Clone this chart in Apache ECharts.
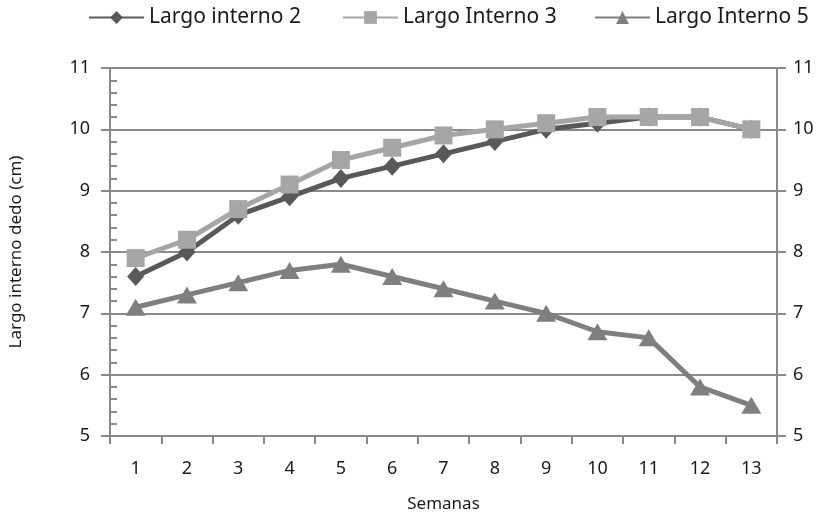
<!DOCTYPE html>
<html><head><meta charset="utf-8">
<script src="https://cdn.jsdelivr.net/npm/echarts@6/dist/echarts.min.js"></script>
<style>html,body{margin:0;padding:0;background:#fff}#c{width:832px;height:518px}</style>
</head><body><div id="c"></div>
<script>
const categories = ['1','2','3','4','5','6','7','8','9','10','11','12','13'];
const largoInterno2 = [7.6, 8.0, 8.6, 8.9, 9.2, 9.4, 9.6, 9.8, 10.0, 10.1, 10.2, 10.2, 10.0];
const largoInterno3 = [7.9, 8.2, 8.7, 9.1, 9.5, 9.7, 9.9, 10.0, 10.1, 10.2, 10.2, 10.2, 10.0];
const largoInterno5 = [7.1, 7.3, 7.5, 7.7, 7.8, 7.6, 7.4, 7.2, 7.0, 6.7, 6.6, 5.8, 5.5];
const seriesNames = ['Largo interno 2', 'Largo Interno 3', 'Largo Interno 5'];
const yMin = 5, yMax = 11, yInterval = 1;

const font = '"Noto Sans", "Open Sans", sans-serif';
const axisGray = '#8a8a8a';
const textColor = '#1a1a1a';
const legendLefts = [88, 342, 594];

const chart = echarts.init(document.getElementById('c'), null, {renderer: 'canvas'});
chart.setOption({
  animation: false,
  backgroundColor: '#fff',
  textStyle: {fontFamily: font},
  legend: seriesNames.map((n, i) => ({
    top: 7, left: legendLefts[i], padding: 0,
    itemWidth: 55, itemHeight: 16,
    textStyle: {fontFamily: font, fontSize: 21, color: textColor},
    data: [n]
  })),
  grid: {left: 110, right: 55, top: 68, bottom: 82, outerBoundsMode: 'none', containLabel: false},
  xAxis: {
    type: 'category', data: categories, boundaryGap: true,
    name: 'Semanas', nameLocation: 'middle', nameGap: 60,
    nameTextStyle: {fontFamily: font, fontSize: 17, color: textColor},
    axisLine: {lineStyle: {color: axisGray, width: 2}},
    axisTick: {show: true, length: 8, alignWithLabel: false, lineStyle: {color: axisGray, width: 2}},
    axisLabel: {fontFamily: font, fontSize: 18, color: textColor, margin: 24},
    splitLine: {show: false}
  },
  yAxis: [
    {
      type: 'value', position: 'left', min: yMin, max: yMax, interval: yInterval,
      name: 'Largo interno dedo (cm)', nameLocation: 'middle', nameGap: 85, nameRotate: 90,
      nameTextStyle: {fontFamily: font, fontSize: 17, color: textColor},
      axisLine: {show: true, lineStyle: {color: axisGray, width: 2}},
      axisTick: {show: true, length: 9, lineStyle: {color: axisGray, width: 2}},
      axisLabel: {fontFamily: font, fontSize: 18, color: textColor, margin: 20},
      splitLine: {show: true, lineStyle: {color: axisGray, width: 2}}
    },
    {
      type: 'value', position: 'right', min: yMin, max: yMax, interval: yInterval,
      axisLine: {show: true, lineStyle: {color: axisGray, width: 2}},
      axisTick: {show: true, length: 9, lineStyle: {color: axisGray, width: 2}},
      axisLabel: {fontFamily: font, fontSize: 18, color: textColor, margin: 16},
      splitLine: {show: false}
    },
    {
      type: 'value', position: 'left', min: yMin, max: yMax, interval: yInterval,
      axisLine: {show: false}, axisLabel: {show: false}, splitLine: {show: false},
      axisTick: {show: false, inside: true},
      minorTick: {show: true, splitNumber: 5, length: 7, lineStyle: {color: axisGray, width: 2}}
    }
  ],
  series: [
    {
      name: seriesNames[0], type: 'line', data: largoInterno2, yAxisIndex: 0,
      symbol: 'diamond', symbolSize: [17, 19], showAllSymbol: true,
      lineStyle: {color: '#595959', width: 5},
      itemStyle: {color: '#595959'}, z: 2
    },
    {
      name: seriesNames[1], type: 'line', data: largoInterno3, yAxisIndex: 0,
      symbol: 'rect', symbolSize: 18, showAllSymbol: true,
      lineStyle: {color: '#a6a6a6', width: 5},
      itemStyle: {color: '#a6a6a6'}, z: 3
    },
    {
      name: seriesNames[2], type: 'line', data: largoInterno5, yAxisIndex: 0,
      symbol: 'triangle', symbolSize: [20, 17], showAllSymbol: true,
      lineStyle: {color: '#7f7f7f', width: 5},
      itemStyle: {color: '#7f7f7f'}, z: 4
    }
  ]
});
</script></body></html>
